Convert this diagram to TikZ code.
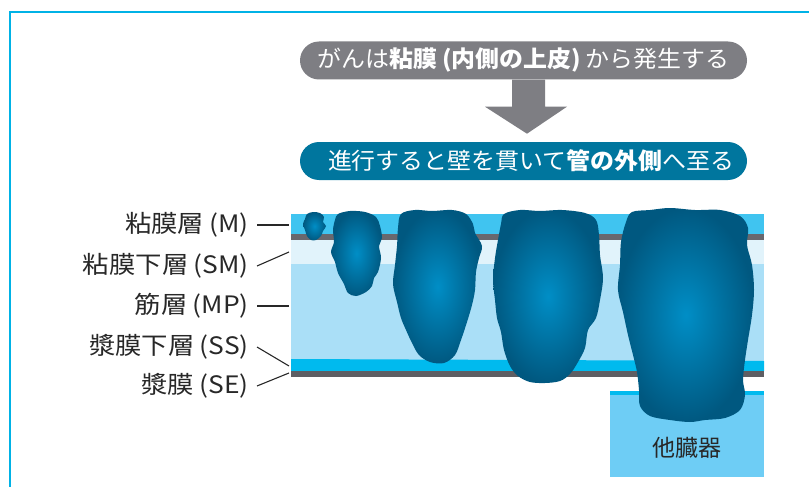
\documentclass[tikz,border=0pt]{standalone}
\usepackage{fontspec}
\newfontfamily\jp{Noto Sans CJK JP}
\usetikzlibrary{positioning}
\definecolor{framecyan}{RGB}{0,178,230}
\definecolor{pillgray}{RGB}{126,126,131}
\definecolor{pillteal}{RGB}{0,118,158}
\definecolor{mucosa}{RGB}{64,196,240}
\definecolor{submucosa}{RGB}{225,243,251}
\definecolor{muscle}{RGB}{170,223,247}
\definecolor{serosa}{RGB}{0,186,238}
\definecolor{linegray}{RGB}{104,104,110}
\definecolor{organ}{RGB}{110,205,245}
\definecolor{tumorin}{RGB}{0,142,198}
\definecolor{tumorout}{RGB}{0,88,128}
\definecolor{labeltext}{RGB}{40,40,40}
% the lettering is set a little wider than the font
\newcommand\widepill[1]{\scalebox{1.04}[1]{#1}}
\newcommand\widelbl[1]{\scalebox{1.1}[1]{#1}}

\begin{document}
\begin{tikzpicture}[x=1pt,y=-1pt,
    pill/.style={rounded corners=19pt,minimum width=447pt,minimum height=38pt,
                 inner sep=0pt,text=white,font=\jp\fontsize{23}{26}\selectfont},
    lbl/.style={anchor=east,inner xsep=8pt,inner ysep=0pt,text=labeltext,
                font=\jp\fontsize{24}{26}\selectfont},
    lead/.style={line width=1.1pt,labeltext},
    tumor/.style={inner color=tumorin,outer color=tumorout}
  ]
    \useasboundingbox (0,0) rectangle (809,487);
    \draw[framecyan,line width=2pt] (9.5,487) -- (9.5,12.5) -- (809,12.5);

    \node[pill,fill=pillgray] (start) at (523.5,60.5)
      {\widepill{がんは\textbf{粘膜\kern.2em(内側の上皮)\kern.2em}から発生する}};
    \node[pill,fill=pillteal] (spread) at (523.5,161)
      {\hspace{15pt}\widepill{進行すると壁を貫いて\textbf{管の外側}へ至る}};
    \fill[pillgray] ([xshift=-11.5pt]start.south) -- ++(33,0) -- ++(0,27)
      -- ++(22,0) -- ++(-40,27) -- ++(-42,-27) -- ++(27,0) -- cycle;

    % wall layers
    \fill[mucosa]    (291,214) rectangle (764,234);
    \fill[linegray]  (291,234) rectangle (764,240);
    \fill[submucosa] (291,240) rectangle (764,264);
    \fill[muscle]    (291,264) rectangle (764,361);
    \fill[serosa]    (291,359) -- (764,361) -- (764,371) -- (291,371) -- cycle;
    \fill[linegray!90!black] (291,371) rectangle (764,377);

    % neighbouring organ
    \node[fill=organ,anchor=north west,inner sep=0pt,minimum width=154pt,
          minimum height=86pt] (organ) at (610,391) {};
    \fill[serosa] (organ.north west) rectangle ++(154,4);
    \node[text=labeltext,font=\jp\fontsize{23}{24}\selectfont] (organtxt)
      at (687,448) {他臓器};

    % tumours, growing deeper from left to right
    \shade[tumor] plot[smooth cycle,tension=.55] coordinates {
      (307,214) (313,212) (320,213) (324,217) (323,222) (326,226)
      (323,231) (321,236) (316,240) (311,240) (307,236) (305,230)
      (303,224) (305,219)};
    \shade[tumor] plot[smooth cycle,tension=.55] coordinates {
      (338,214) (350,211) (365,212) (376,217) (380,226) (382,238)
      (379,246) (381,258) (378,272) (374,278) (372,286) (366,292)
      (356,296) (348,293) (344,284) (338,273) (335,262) (331,252)
      (334,242) (333,230) (335,220)};
    \shade[tumor] plot[smooth cycle,tension=.55] coordinates {
      (401,214) (415,210) (432,211) (452,210) (466,214) (473,224)
      (475,233) (482,246) (479,258) (476,272) (475,290) (472,305)
      (467,322) (461,340) (455,355) (444,363) (430,362) (419,355)
      (412,343) (406,330) (401,318) (397,302) (393,284) (395,265)
      (397,246) (398,228)};
    \shade[tumor] plot[smooth cycle,tension=.55] coordinates {
      (504,214) (520,210) (540,211) (562,210) (585,213) (596,220)
      (599,235) (600,255) (603,278) (600,300) (596,318) (588,330)
      (585,348) (578,362) (570,374) (560,381) (545,383) (530,382)
      (518,376) (510,366) (504,350) (501,332) (497,318) (495,300)
      (493,280) (495,258) (498,240) (501,224)};
    \shade[tumor] plot[smooth cycle,tension=.55] coordinates {
      (632,212) (650,210) (670,208) (695,210) (720,210) (740,216)
      (748,228) (747,245) (752,265) (754,290) (752,315) (748,340)
      (745,360) (743,380) (745,395) (740,410) (725,418) (705,420)
      (690,422) (670,420) (650,416) (640,406) (639,390) (637,372)
      (633,355) (628,335) (623,312) (618,290) (620,265) (621,242)
      (626,222)};

    % layer names
    \node[lbl] (lm)  at (257,225) {\widelbl{粘膜層\kern.2em(M)}};
    \node[lbl] (lsm) at (257,266) {\widelbl{粘膜下層\kern.2em(SM)}};
    \node[lbl] (lmp) at (257,306) {\widelbl{筋層\kern.2em(MP)}};
    \node[lbl] (lss) at (257,347) {\widelbl{漿膜下層\kern.2em(SS)}};
    \node[lbl] (lse) at (257,386) {\widelbl{漿膜\kern.2em(SE)}};
    \coordinate (pm)  at (289,225);
    \coordinate (psm) at (289,252);
    \coordinate (pmp) at (289,306);
    \coordinate (pss) at (289,366);
    \coordinate (pse) at (289,373);
    \draw[lead] (lm.east)  -- (pm);
    \draw[lead] (lsm.east) -- (psm);
    \draw[lead] (lmp.east) -- (pmp);
    \draw[lead] (lss.east) -- (pss);
    \draw[lead] (lse.east) -- (pse);
  \end{tikzpicture}
\end{document}
